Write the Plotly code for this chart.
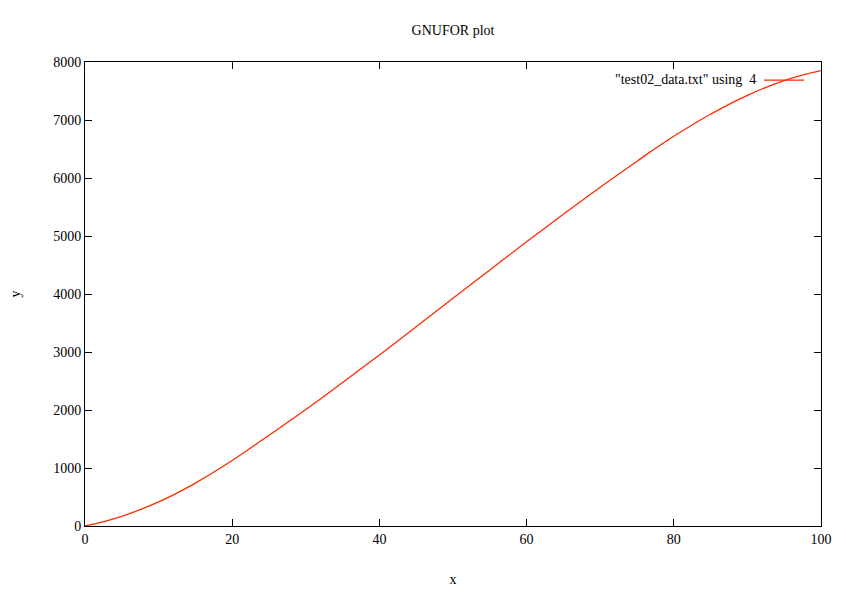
import plotly.graph_objects as go

# values
x_vals = [0, 5, 10, 15, 20, 25, 30, 35, 40, 45, 50,
          55, 60, 65, 70, 75, 80, 85, 90, 95, 100]
y_vals = [0, 168, 415, 740, 1130, 1565, 2010, 2475, 2950, 3435, 3925,
          4415, 4900, 5375, 5840, 6290, 6720, 7100, 7425, 7680, 7850]

series_name = '"test02_data.txt" using  4'
line_color = "#ff2a00"
serif = "Liberation Serif"

fig = go.Figure()
fig.add_trace(go.Scatter(
    x=x_vals, y=y_vals, mode="lines", name=series_name,
    line=dict(color=line_color, width=1.3, shape="spline", smoothing=1.3),
    showlegend=False,
))

axis_style = dict(
    showline=True, linecolor="black", linewidth=1, mirror="ticks",
    ticks="inside", ticklen=7, tickcolor="black", tickwidth=1,
    showgrid=False, zeroline=False, automargin=False,
    tickfont=dict(family=serif, size=14, color="black"),
)

fig.update_xaxes(range=[0, 100], tick0=0, dtick=20,
                 title=dict(text="x", font=dict(family=serif, size=14, color="black"), standoff=28),
                 **axis_style)
fig.update_yaxes(range=[0, 8000], tick0=0, dtick=1000,
                 title=dict(text="y", font=dict(family=serif, size=14, color="black"), standoff=31),
                 **axis_style)

# gnuplot-style key: text first, then the line sample
fig.add_annotation(text=series_name, xref="paper", yref="paper",
                   x=0.914, y=0.963, xanchor="right", yanchor="middle",
                   showarrow=False, font=dict(family=serif, size=14, color="black"))
fig.add_shape(type="line", xref="paper", yref="paper",
              x0=0.9226, x1=0.977, y0=0.961, y1=0.961,
              line=dict(color=line_color, width=1.3))

# page body adds 8px, so margins are shifted by that amount
fig.update_layout(
    width=846, height=594,
    margin=dict(l=77, r=33, t=54, b=76),
    paper_bgcolor="white", plot_bgcolor="white",
    title=dict(text="GNUFOR plot", x=0.526, xanchor="center", y=0.963, yanchor="middle",
               font=dict(family=serif, size=14, color="black")),
    font=dict(family=serif, color="black"),
)

fig.write_html("out.html")
